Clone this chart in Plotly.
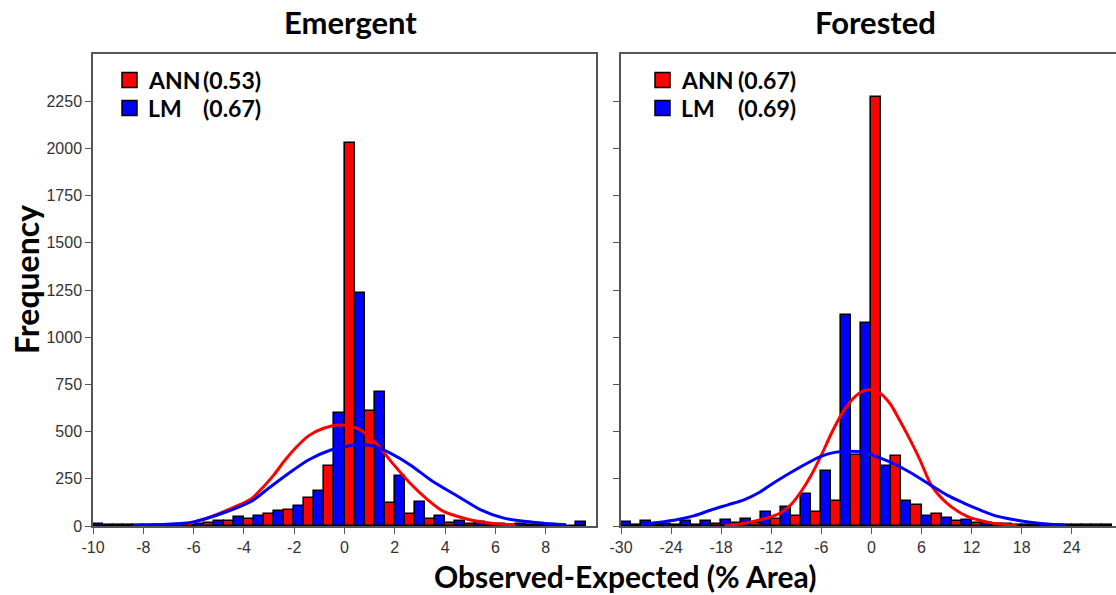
import plotly.graph_objects as go

# ---------------- data ----------------
# Emergent: histogram bins (lower edges, width 0.8) and counts per model
emergent_bin_lower = [-10.4, -9.6, -8.8, -8.0, -7.2, -6.4, -5.6, -4.8, -4.0, -3.2, -2.4, -1.6, -0.8,
                      0.0, 0.8, 1.6, 2.4, 3.2, 4.0, 4.8, 5.6, 6.4, 7.2, 8.0, 8.8]
emergent_bin_width = 0.8
emergent_ann = [0, 6, 4, 3, 4, 8, 17, 29, 38, 63, 84, 147, 320,
                2028, 611, 123, 61, 38, 17, 12, 8, 5, 3, 2, 1]
emergent_lm = [12, 5, 3, 4, 5, 12, 29, 47, 52, 77, 107, 188, 599,
               1236, 712, 267, 128, 55, 29, 20, 12, 8, 6, 4, 22]

# Emergent: fitted density curves (scaled to frequency)
emergent_ann_curve_x = [-6.2, -6.0, -5.3, -4.8, -4.3, -3.7, -3.2, -2.8, -2.4, -1.9, -1.4, -0.8, -0.2,
                        0.6, 1.3, 1.9, 2.6, 3.3, 3.9, 4.9, 5.7, 6.8]
emergent_ann_curve_y = [10, 20, 50, 76, 105, 145, 211, 272, 343, 420, 480, 519, 535,
                        512, 431, 334, 228, 140, 80, 36, 17, 3]
emergent_lm_curve_x = [-8.4, -7.2, -6.0, -4.8, -3.7, -3.0, -2.2, -1.4, -0.6, 0.2, 0.6, 1.2,
                       1.8, 2.6, 3.5, 4.5, 5.4, 6.3, 7.5, 8.8]
emergent_lm_curve_y = [3, 8, 22, 70, 131, 202, 281, 352, 400, 425, 432, 422,
                       387, 325, 237, 158, 87, 43, 20, 6]

# Forested: histogram bins (lower edges, width 2.4) and counts per model
forested_bin_lower = [-31.2, -28.8, -26.4, -24.0, -21.6, -19.2, -16.8, -14.4, -12.0, -9.6, -7.2, -4.8, -2.4,
                      0.0, 2.4, 4.8, 7.2, 9.6, 12.0, 14.4, 16.8, 19.2, 21.6, 24.0, 26.4]
forested_bin_width = 2.4
forested_ann = [0, 5, 4, 4, 5, 8, 14, 18, 38, 52, 75, 135, 378,
                2270, 373, 112, 64, 26, 17, 10, 6, 4, 3, 3, 3]
forested_lm = [22, 25, 12, 29, 25, 33, 35, 75, 101, 167, 290, 1119, 1075,
               316, 131, 52, 40, 31, 17, 8, 5, 4, 3, 3, 3]

forested_ann_curve_x = [-17.6, -16.0, -14.4, -12.0, -10.8, -9.6, -8.4, -7.2, -6.0, -4.8, -3.6, -2.4,
                        -1.2, -0.2, 1.0, 2.2, 3.2, 4.2, 5.8, 7.2, 9.0, 11.4, 14.2, 17.4]
forested_ann_curve_y = [2, 9, 22, 49, 72, 115, 184, 270, 375, 490, 590, 665,
                        710, 722, 705, 650, 575, 493, 352, 214, 123, 52, 18, 3]
forested_lm_curve_x = [-27.6, -25.6, -23.2, -21.2, -19.2, -17.2, -15.2, -13.4, -12.0, -9.4, -6.2, -4.4,
                       -2.6, -0.8, 1.0, 2.0, 4.4, 7.2, 9.0, 11.0, 13.0, 15.0, 17.0, 19.0, 21.0, 23.2]
forested_lm_curve_y = [8, 18, 34, 55, 85, 112, 140, 179, 220, 290, 366, 390,
                       396, 390, 361, 343, 290, 214, 165, 123, 85, 52, 34, 20, 10, 4]

panel_titles = ["Emergent", "Forested"]
model_names = ["ANN", "LM"]
emergent_scores = ["(0.53)", "(0.67)"]
forested_scores = ["(0.67)", "(0.69)"]
emergent_xticks = [-10, -8, -6, -4, -2, 0, 2, 4, 6, 8]
forested_xticks = [-30, -24, -18, -12, -6, 0, 6, 12, 18, 24]
y_ticks = [0, 250, 500, 750, 1000, 1250, 1500, 1750, 2000, 2250]

# ---------------- styling ----------------
W, H = 1116, 595
RED, BLUE = "#ff0000", "#0000ff"
AXIS = "#555555"
TITLE_FONT = "Lato"
TICK_FONT = dict(family="Liberation Sans, Arial", size=16, color="#333333")


def px(x):
    return x / W


def py(y):
    return 1 - y / H


def centers(lower, width):
    return [e + width / 2 for e in lower]


def labels(vals):
    # plain hyphen-minus for negative tick labels
    return [str(v) for v in vals]


fig = go.Figure()

panels = [
    ("x", "y", emergent_bin_lower, emergent_bin_width, emergent_ann, emergent_lm,
     (emergent_ann_curve_x, emergent_ann_curve_y), (emergent_lm_curve_x, emergent_lm_curve_y)),
    ("x2", "y2", forested_bin_lower, forested_bin_width, forested_ann, forested_lm,
     (forested_ann_curve_x, forested_ann_curve_y), (forested_lm_curve_x, forested_lm_curve_y)),
]

for xa, ya, lower, width, ann, lm, ann_curve, lm_curve in panels:
    xc = centers(lower, width)
    for name, vals, color in ((model_names[0], ann, RED), (model_names[1], lm, BLUE)):
        fig.add_trace(go.Bar(
            x=xc, y=vals, name=name, xaxis=xa, yaxis=ya, offsetgroup=name,
            marker=dict(color=color, line=dict(color="#000000", width=1.6)),
            showlegend=False,
        ))
    for curve, color in ((ann_curve, RED), (lm_curve, BLUE)):
        fig.add_trace(go.Scatter(
            x=curve[0], y=curve[1], xaxis=xa, yaxis=ya, mode="lines",
            line=dict(color=color, width=3, shape="spline", smoothing=0.8),
            showlegend=False, hoverinfo="skip",
        ))

ydom = [py(526), py(54)]
axis_common = dict(showgrid=False, zeroline=False, showline=True, linecolor=AXIS, linewidth=1.5,
                   ticks="outside", ticklen=6, tickcolor=AXIS, tickwidth=1.2, tickfont=TICK_FONT,
                   automargin=False)

fig.update_layout(
    width=W, height=H,
    margin=dict(l=0, r=0, t=0, b=0, autoexpand=False),
    paper_bgcolor="white", plot_bgcolor="white",
    barmode="group", bargap=0, bargroupgap=0,
    xaxis=dict(domain=[px(93), px(596)], range=[-10, 10], tickvals=emergent_xticks,
               ticktext=labels(emergent_xticks), mirror=True, anchor="y", **axis_common),
    yaxis=dict(domain=ydom, range=[0, 2500], tickvals=y_ticks, ticktext=labels(y_ticks),
               mirror=True, anchor="x", **axis_common),
    xaxis2=dict(domain=[px(621), 1], range=[-30, 29.3], tickvals=forested_xticks,
                ticktext=labels(forested_xticks), mirror=True, anchor="y2", **axis_common),
    yaxis2=dict(domain=ydom, range=[0, 2500], tickvals=y_ticks, showticklabels=False,
                mirror=False, anchor="x2", **axis_common),
)

annotations = []
shapes = []

# panel titles
for title, cx in zip(panel_titles, (350, 875)):
    annotations.append(dict(text=f"<b>{title}</b>", x=px(cx), y=py(22), xref="paper", yref="paper",
                            showarrow=False, xanchor="center", yanchor="middle",
                            font=dict(family=TITLE_FONT, size=31, color="black")))

# axis titles
annotations.append(dict(text="<b>Frequency</b>", x=px(26), y=py(280), xref="paper", yref="paper",
                        showarrow=False, textangle=-90, xanchor="center", yanchor="middle",
                        font=dict(family=TITLE_FONT, size=32, color="black")))
annotations.append(dict(text="<b>Observed-Expected (% Area)</b>", x=px(625), y=py(576),
                        xref="paper", yref="paper", showarrow=False, xanchor="center", yanchor="middle",
                        font=dict(family=TITLE_FONT, size=30, color="black")))

# in-panel legends
legend_specs = [(122, 146, 201, emergent_scores), (655, 679, 736, forested_scores)]
for box_x, name_x, score_x, scores in legend_specs:
    for i, (name, score, color) in enumerate(zip(model_names, scores, (RED, BLUE))):
        yc = 80 + i * 28
        shapes.append(dict(type="rect", xref="paper", yref="paper",
                           x0=px(box_x), x1=px(box_x + 15), y0=py(yc + 7.5), y1=py(yc - 7.5),
                           fillcolor=color, line=dict(color="black", width=1.5)))
        for txt, tx in ((name, name_x), (score, score_x)):
            annotations.append(dict(text=f"<b>{txt}</b>", x=px(tx), y=py(yc), xref="paper", yref="paper",
                                    showarrow=False, xanchor="left", yanchor="middle",
                                    font=dict(family=TITLE_FONT, size=23, color="black")))

fig.update_layout(annotations=annotations, shapes=shapes)

fig.write_html("out.html")
